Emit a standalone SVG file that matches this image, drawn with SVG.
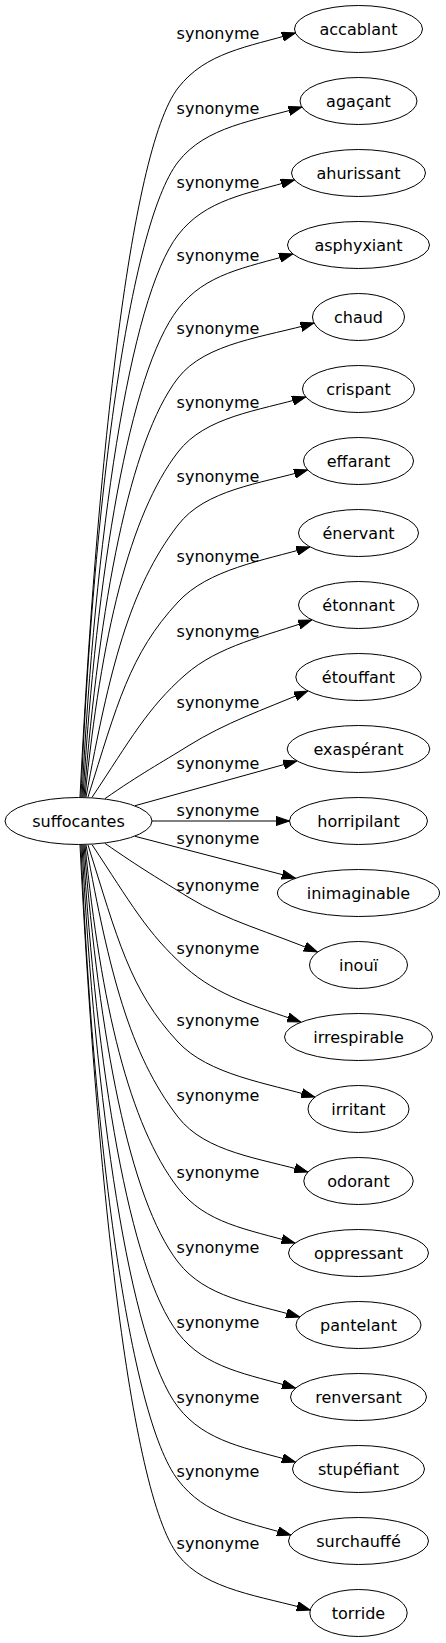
<svg xmlns="http://www.w3.org/2000/svg" width="446" height="1643" viewBox="0 0 446 1643">
<style>
text { font-family: "DejaVu Sans", "Liberation Sans", sans-serif; font-size: 16px; fill: #000; text-anchor: middle; }
.node ellipse { fill: none; stroke: #000; stroke-width: 1; }
.edge path { fill: none; stroke: #000; stroke-width: 1; marker-end: url(#arr); }
</style>
<defs>
<marker id="arr" markerUnits="userSpaceOnUse" markerWidth="14" markerHeight="10" viewBox="0 0 14 10" refX="13.5" refY="5" orient="auto">
<path d="M0,0.4 L13.5,5 L0,9.6 z" fill="#000" stroke="#000" stroke-width="1"/>
</marker>
</defs>
<rect x="0" y="0" width="446" height="1643" fill="#fff"/>
<g id="edges" class="edge">
<path d="M80,797 C96,478 129.2,151.2 178,88 C205.5,52.4 247.4,47 295.4,33"/>
<path d="M81,797 C92.6,508.2 129.2,225.2 178,162 C205.5,126.4 253.9,121 301.9,107"/>
<path d="M82,797 C94.8,540.8 129.2,298.2 178,235 C205.5,199.4 246.4,194 294.4,180"/>
<path d="M83,797 C96.4,573.7 129.2,372.2 178,309 C205.5,273.4 244.7,268 292.7,254"/>
<path d="M84,797 C99.5,604.4 129.2,441.2 178,378 C205.5,342.4 266,337 314,323"/>
<path d="M85,797 C101,637 129.2,515.2 178,452 C205.5,416.4 257.7,411 305.7,397"/>
<path d="M86,797 C109.3,670.4 129.2,588.2 178,525 C205.5,489.4 259.5,484 307.5,470"/>
<path d="M88,797 C117,705.1 129.5,654 178,602 C208.6,569.1 261.8,561 309.8,547"/>
<path d="M92,797.4 C130.1,740 147.5,708 185,675 C218.8,645.3 264.7,636.5 311.7,620"/>
<path d="M105,798.6 C141.2,773.4 160.5,763.2 188,746 C226.3,722.2 261.6,710.5 307.6,691"/>
<path d="M135,805.7 L296.8,761"/>
<path d="M152,821 L289.5,821"/>
<path d="M135,836.3 L295.3,878"/>
<path d="M105,843.4 C141.5,868.8 160.3,879.7 188,897 C226.3,920.8 271.3,932.5 317.3,952"/>
<path d="M92,844.6 C130.1,902 147.5,934 185,967 C218.8,996.7 253.7,1005.5 300.7,1022"/>
<path d="M88,845 C117.3,937.6 129.5,990 178,1042 C208.6,1074.9 266.8,1083 314.8,1097"/>
<path d="M86,845 C109.3,971.6 129.2,1053.8 178,1117 C205.5,1152.6 259.8,1158 307.8,1172"/>
<path d="M85,845 C100.9,1004.1 129.2,1124.8 178,1188 C205.5,1223.6 246.9,1229 294.9,1243"/>
<path d="M84,845 C99.4,1037.4 129.2,1198.8 178,1262 C205.5,1297.6 251.6,1303 299.6,1317"/>
<path d="M83,845 C96.4,1068.3 129.2,1269.8 178,1333 C205.5,1368.6 247.5,1374 295.5,1388"/>
<path d="M82,845 C94.8,1101.2 129.2,1343.8 178,1407 C205.5,1442.6 247.4,1448 295.4,1462"/>
<path d="M81,845 C92.6,1133.8 129.2,1416.8 178,1480 C205.5,1515.6 242.7,1521 290.7,1535"/>
<path d="M80,845 C96.1,1167.1 129.2,1491.8 178,1555 C205.5,1590.6 262.2,1596 310.2,1610"/>
</g>
<g id="edge-labels">
<text x="218" y="39">synonyme</text>
<text x="218" y="114">synonyme</text>
<text x="218" y="188">synonyme</text>
<text x="218" y="261">synonyme</text>
<text x="218" y="334">synonyme</text>
<text x="218" y="408">synonyme</text>
<text x="218" y="482">synonyme</text>
<text x="218" y="562">synonyme</text>
<text x="218" y="637">synonyme</text>
<text x="218" y="708">synonyme</text>
<text x="218" y="769">synonyme</text>
<text x="218" y="816">synonyme</text>
<text x="218" y="844">synonyme</text>
<text x="218" y="891">synonyme</text>
<text x="218" y="954">synonyme</text>
<text x="218" y="1026">synonyme</text>
<text x="218" y="1101">synonyme</text>
<text x="218" y="1178">synonyme</text>
<text x="218" y="1253">synonyme</text>
<text x="218" y="1328">synonyme</text>
<text x="218" y="1403">synonyme</text>
<text x="218" y="1477">synonyme</text>
<text x="218" y="1549">synonyme</text>
</g>
<g id="suffocantes" class="node"><ellipse cx="78.5" cy="821" rx="73.5" ry="23.5"/><text x="78.5" y="826.5">suffocantes</text></g>
<g id="accablant" class="node"><ellipse cx="358.5" cy="29" rx="64" ry="23.5"/><text x="358.5" y="34.5">accablant</text></g>
<g id="agacant" class="node"><ellipse cx="358.5" cy="101" rx="58.5" ry="23.5"/><text x="358.5" y="106.5">agaçant</text></g>
<g id="ahurissant" class="node"><ellipse cx="358.5" cy="173" rx="67" ry="23.5"/><text x="358.5" y="178.5">ahurissant</text></g>
<g id="asphyxiant" class="node"><ellipse cx="358.5" cy="245" rx="71" ry="23.5"/><text x="358.5" y="250.5">asphyxiant</text></g>
<g id="chaud" class="node"><ellipse cx="358.5" cy="317" rx="46" ry="23.5"/><text x="358.5" y="322.5">chaud</text></g>
<g id="crispant" class="node"><ellipse cx="358.5" cy="389" rx="56" ry="23.5"/><text x="358.5" y="394.5">crispant</text></g>
<g id="effarant" class="node"><ellipse cx="358.5" cy="461" rx="55" ry="23.5"/><text x="358.5" y="466.5">effarant</text></g>
<g id="enervant" class="node"><ellipse cx="358.5" cy="533" rx="60" ry="23.5"/><text x="358.5" y="538.5">énervant</text></g>
<g id="etonnant" class="node"><ellipse cx="358.5" cy="605" rx="60" ry="23.5"/><text x="358.5" y="610.5">étonnant</text></g>
<g id="etouffant" class="node"><ellipse cx="358.5" cy="677" rx="62.7" ry="23.5"/><text x="358.5" y="682.5">étouffant</text></g>
<g id="exasperant" class="node"><ellipse cx="358.5" cy="749" rx="71.3" ry="23.5"/><text x="358.5" y="754.5">exaspérant</text></g>
<g id="horripilant" class="node"><ellipse cx="358.5" cy="821" rx="69" ry="23.5"/><text x="358.5" y="826.5">horripilant</text></g>
<g id="inimaginable" class="node"><ellipse cx="358.5" cy="893" rx="81" ry="23.5"/><text x="358.5" y="898.5">inimaginable</text></g>
<g id="inoui" class="node"><ellipse cx="358.5" cy="965" rx="49" ry="23.5"/><text x="358.5" y="970.5">inouï</text></g>
<g id="irrespirable" class="node"><ellipse cx="358.5" cy="1037" rx="74" ry="23.5"/><text x="358.5" y="1042.5">irrespirable</text></g>
<g id="irritant" class="node"><ellipse cx="358.5" cy="1109" rx="50.5" ry="23.5"/><text x="358.5" y="1114.5">irritant</text></g>
<g id="odorant" class="node"><ellipse cx="358.5" cy="1181" rx="54.7" ry="23.5"/><text x="358.5" y="1186.5">odorant</text></g>
<g id="oppressant" class="node"><ellipse cx="358.5" cy="1253" rx="70" ry="23.5"/><text x="358.5" y="1258.5">oppressant</text></g>
<g id="pantelant" class="node"><ellipse cx="358.5" cy="1325" rx="62.5" ry="23.5"/><text x="358.5" y="1330.5">pantelant</text></g>
<g id="renversant" class="node"><ellipse cx="358.5" cy="1397" rx="68" ry="23.5"/><text x="358.5" y="1402.5">renversant</text></g>
<g id="stupefiant" class="node"><ellipse cx="358.5" cy="1469" rx="66" ry="23.5"/><text x="358.5" y="1474.5">stupéfiant</text></g>
<g id="surchauffe" class="node"><ellipse cx="358.5" cy="1541" rx="70" ry="23.5"/><text x="358.5" y="1546.5">surchauffé</text></g>
<g id="torride" class="node"><ellipse cx="358.5" cy="1613" rx="48.7" ry="23.5"/><text x="358.5" y="1618.5">torride</text></g>
</svg>
